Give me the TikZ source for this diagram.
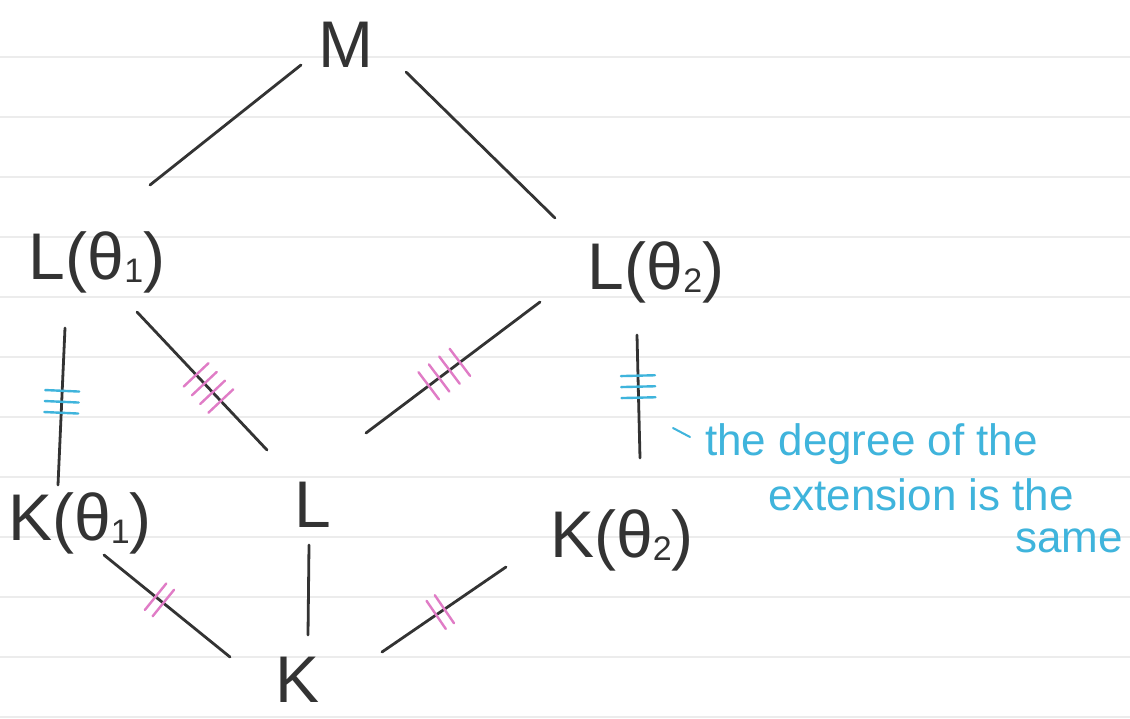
\documentclass[tikz,border=0pt]{standalone}
\usepackage{fontspec}
\setmainfont{Liberation Sans}
\usetikzlibrary{decorations.markings}

\definecolor{pencil}{HTML}{333333}
\definecolor{penblue}{HTML}{3FB4DC}
\definecolor{penpink}{HTML}{E07CC6}
\definecolor{ruling}{HTML}{ECECEC}

\newcommand{\thidx}[1]{θ{\fontsize{34}{34}\selectfont\raisebox{-0.1em}{#1}}}

\tikzset{
  field/.style={text=pencil, font=\fontsize{66}{70}\selectfont, inner sep=0pt},
  edge/.style={draw=pencil, line width=2.8pt, line cap=round},
  note/.style={text=penblue, font=\fontsize{44}{48}\selectfont, inner sep=0pt, anchor=base west},
  ticks/.style n args={4}{postaction={decorate}, decoration={markings,
      mark=at position #1 with {\foreach \i in {1,...,#2}
        \draw[#3, line width=2.4pt, line cap=round] ({(\i-(#2+1)/2)*#4},-17) -- ++(0,34);}}}
}

\begin{document}
\begin{tikzpicture}[x=1pt, y=-1pt]
  \useasboundingbox[fill=white] (0,0) rectangle (1130,718);
  % ruled paper
  \foreach \y in {57,117,...,717}
    \draw[ruling, line width=1.5pt] (0,\y) -- (1130,\y);

  % fields
  \node[field] (M)   at (346,45)  {M};
  \node[field] (Lt1) at (97,262)  {L(\thidx{1})};
  \node[field] (Lt2) at (656,272) {L(\thidx{2})};
  \node[field] (Kt1) at (80,523)  {K(\thidx{1})};
  \node[field] (Lm)  at (313,505) {L};
  \node[field] (Kt2) at (622,540) {K(\thidx{2})};
  \node[field] (Kb)  at (298,680) {K};

  % inclusions
  \draw[edge] ([shift={(-45,20)}]M.center) -- ([shift={(53,-77)}]Lt1.center);
  \draw[edge] ([shift={(60,27)}]M.center) -- ([shift={(-101,-54)}]Lt2.center);
  \draw[edge, ticks={0.47}{3}{penblue}{11}] ([shift={(-32,66)}]Lt1.center) -- ([shift={(-22,-38)}]Kt1.center);
  \draw[edge, ticks={0.55}{4}{penpink}{12}] ([shift={(40,50)}]Lt1.center) -- ([shift={(-46,-55)}]Lm.center);
  \draw[edge, ticks={0.55}{4}{penpink}{13}] ([shift={(-116,30)}]Lt2.center) -- ([shift={(53,-72)}]Lm.center);
  \draw[edge, ticks={0.42}{3}{penblue}{11}] ([shift={(-19,63)}]Lt2.center) -- ([shift={(18,-82)}]Kt2.center);
  \draw[edge, ticks={0.44}{2}{penpink}{10}] ([shift={(24,32)}]Kt1.center) -- ([shift={(-68,-23)}]Kb.center);
  \draw[edge] ([shift={(-4,40)}]Lm.center) -- ([shift={(10,-45)}]Kb.center);
  \draw[edge, ticks={0.53}{2}{penpink}{10}] ([shift={(-116,27)}]Kt2.center) -- ([shift={(84,-28)}]Kb.center);

  % remark
  \node[note] (nt1) at (705,455)  {the degree of the};
  \node[note] (nt2) at (768,510)  {extension is the};
  \node[note] (nt3) at (1015,552) {same};
  \draw[penblue, line width=2pt, line cap=round] ([shift={(-15,-18)}]nt1.base west) -- ([shift={(-32,-27)}]nt1.base west);
\end{tikzpicture}
\end{document}
